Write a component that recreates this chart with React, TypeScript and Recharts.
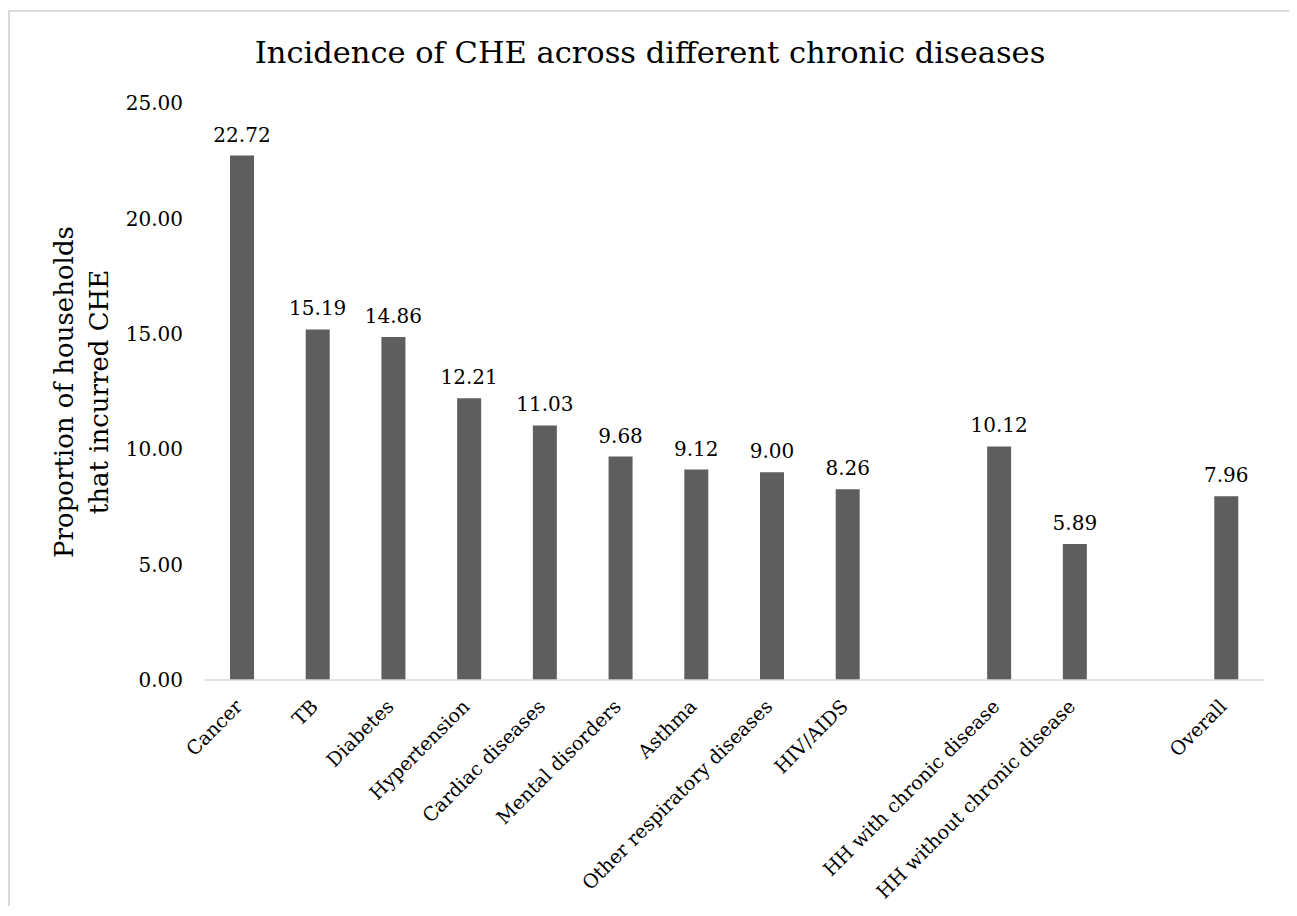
import React from 'react';
import { BarChart, Bar, XAxis, YAxis, LabelList, Label } from 'recharts';

const categories = [
  'Cancer',
  'TB',
  'Diabetes',
  'Hypertension',
  'Cardiac diseases',
  'Mental disorders',
  'Asthma',
  'Other respiratory diseases',
  'HIV/AIDS',
  '',
  'HH with chronic disease',
  'HH without chronic disease',
  '',
  'Overall',
];
const values: (number | null)[] = [22.72, 15.19, 14.86, 12.21, 11.03, 9.68, 9.12, 9.0, 8.26, null, 10.12, 5.89, null, 7.96];
const yTicks = [0, 5, 10, 15, 20, 25];

const data = categories.map((name, i) => ({ name, value: values[i] }));

const FONT = '"DejaVu Serif", serif';

const CategoryTick = (props: any) => {
  const { x, y, payload } = props;
  const tx = x - 3;
  const ty = y + 15;
  return (
    <text
      x={tx}
      y={ty}
      dy="0.35em"
      transform={`rotate(-45, ${tx}, ${ty})`}
      textAnchor="end"
      fontFamily={FONT}
      fontSize={19.2}
      fill="#000"
    >
      {payload.value}
    </text>
  );
};

const YTitle = () => (
  <g fontFamily={FONT} fontSize={26} fill="#000">
    <text x={63} y={380} transform="rotate(-90, 63, 380)" textAnchor="middle">
      Proportion of households
    </text>
    <text x={98} y={380} transform="rotate(-90, 98, 380)" textAnchor="middle">
      that incurred CHE
    </text>
  </g>
);

export default function App() {
  return (
    <div
      style={{
        position: 'relative',
        marginTop: 2,
        width: 1280,
        height: 894,
        borderTop: '2px solid #d9d9d9',
        borderLeft: '2px solid #d9d9d9',
        borderRight: '2px solid #d9d9d9',
        background: '#fff',
      }}
    >
      <div
        style={{
          position: 'absolute',
          top: 26,
          left: 0,
          width: 1280,
          textAlign: 'center',
          fontFamily: FONT,
          fontSize: 30.5,
          lineHeight: '30.5px',
          color: '#000',
        }}
      >
        Incidence of CHE across different chronic diseases
      </div>
      <BarChart
        width={1280}
        height={894}
        data={data}
        margin={{ top: 91, right: 26, bottom: 26, left: 114 }}
        barSize={24}
      >
        <XAxis
          dataKey="name"
          height={200}
          interval={0}
          tickLine={false}
          axisLine={{ stroke: '#d9d9d9', strokeWidth: 1.5 }}
          tick={<CategoryTick />}
        />
        <YAxis
          width={80}
          domain={[0, 25]}
          ticks={yTicks}
          tickFormatter={(v: number) => v.toFixed(2)}
          axisLine={false}
          tickLine={false}
          tickMargin={15}
          tick={{ fontFamily: FONT, fontSize: 20, fill: '#000' }}
        >
          <Label content={() => <YTitle />} />
        </YAxis>
        <Bar dataKey="value" fill="#5e5e5e" isAnimationActive={false}>
          <LabelList
            dataKey="value"
            position="top"
            offset={14}
            formatter={(v: any) => (v == null ? '' : Number(v).toFixed(2))}
            style={{ fontFamily: FONT, fontSize: 20, fill: '#000' }}
          />
        </Bar>
      </BarChart>
    </div>
  );
}
